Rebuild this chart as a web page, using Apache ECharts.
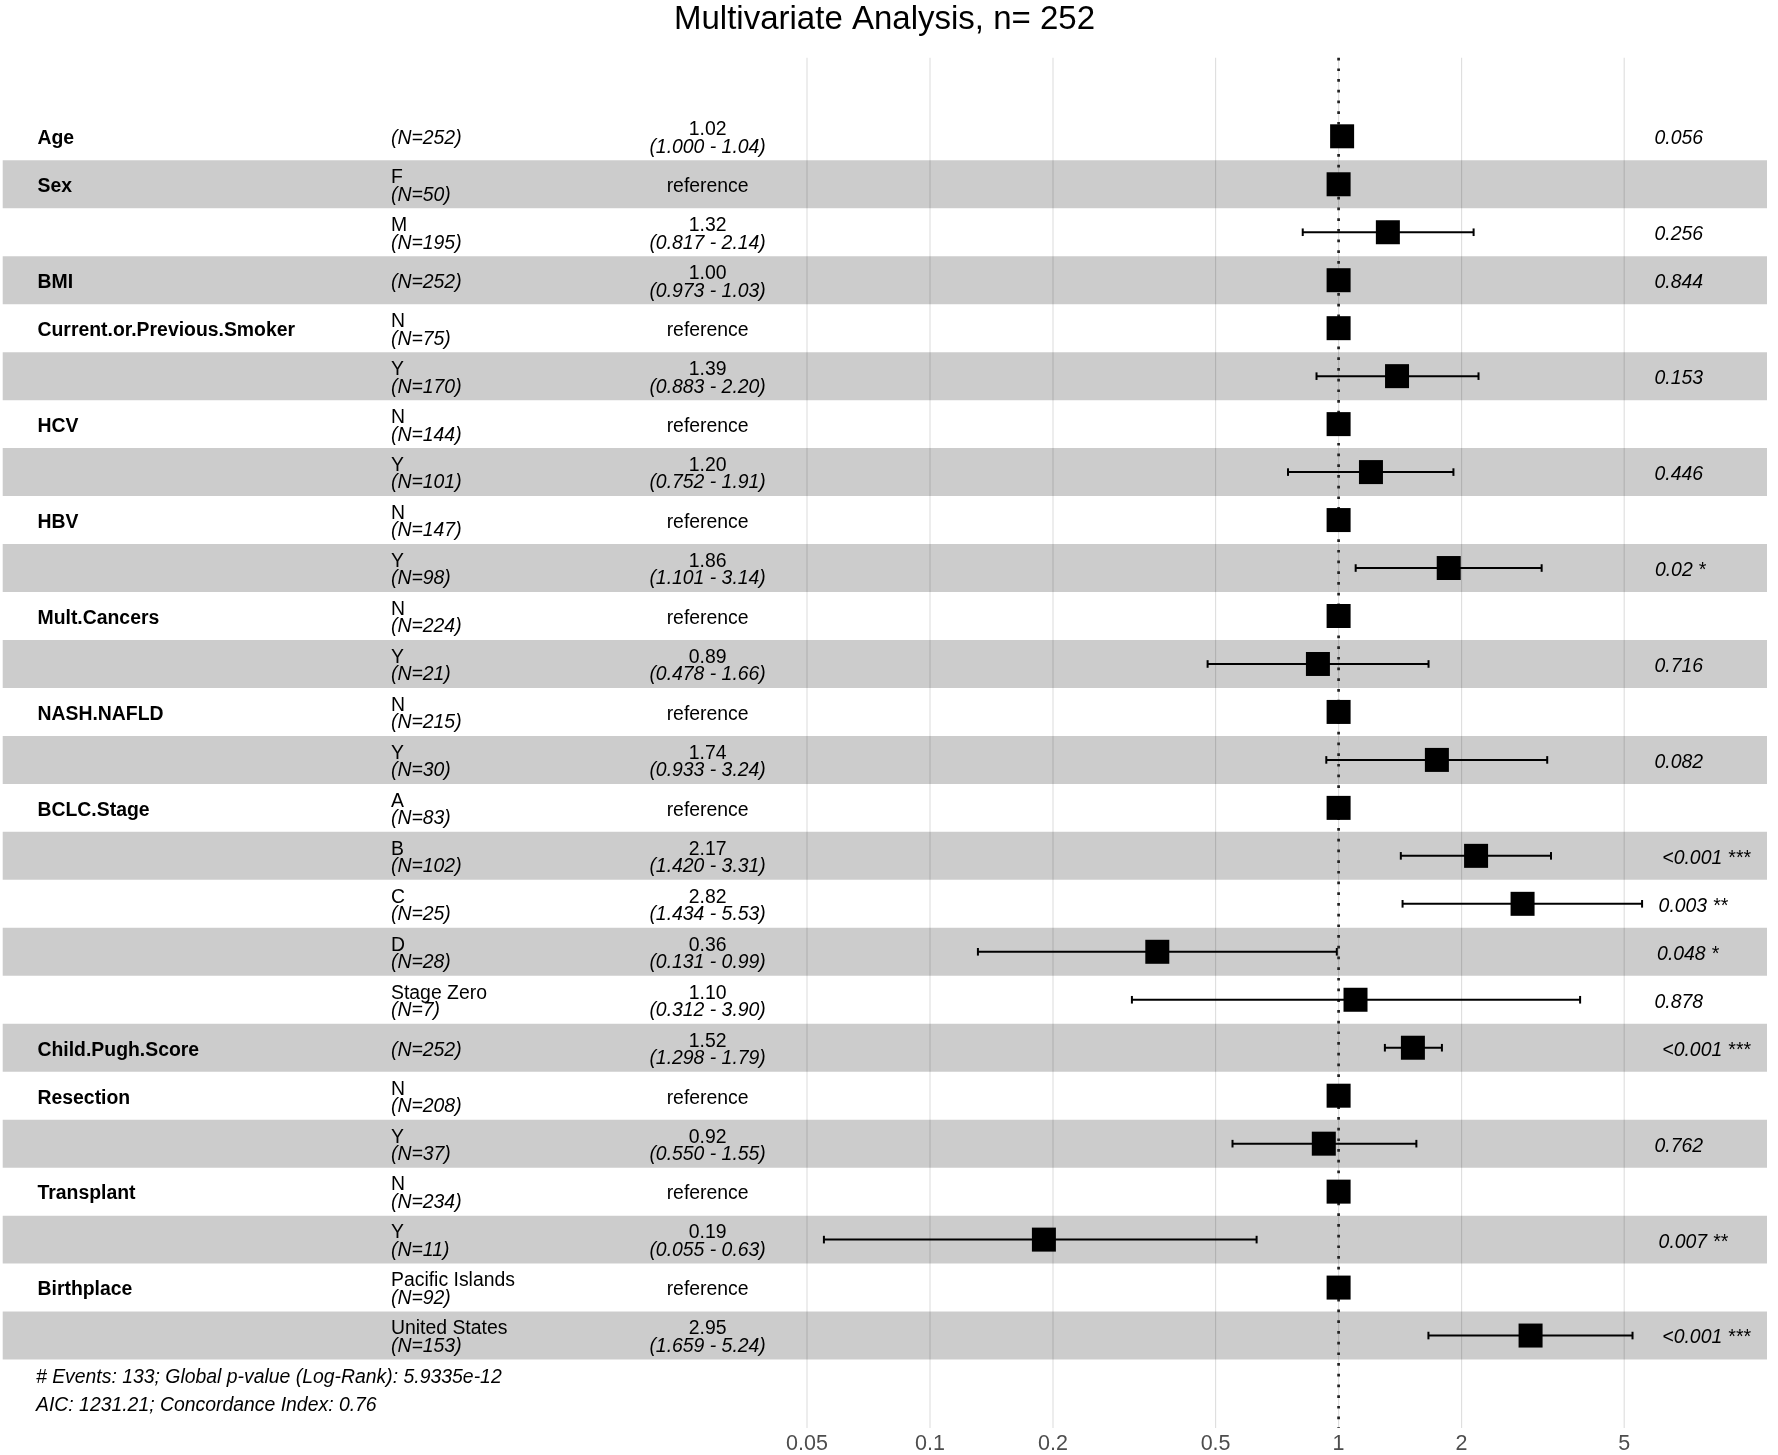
<!DOCTYPE html>
<html>
<head>
<meta charset="utf-8">
<script src="https://cdn.jsdelivr.net/npm/echarts@6/dist/echarts.min.js"></script>
<style>
html,body{margin:0;padding:0;background:#ffffff;}
#chart{width:1778px;height:1455px;}
</style>
</head>
<body>
<div id="chart"></div>
<script>
// ---------------- DATA ----------------
const chartTitle = 'Multivariate Analysis, n= 252';
const variables = ['Age','Sex','','BMI','Current.or.Previous.Smoker','','HCV','','HBV','','Mult.Cancers','','NASH.NAFLD','','BCLC.Stage','','','','','Child.Pugh.Score','Resection','','Transplant','','Birthplace',''];
const levels = ['','F','M','','N','Y','N','Y','N','Y','N','Y','N','Y','A','B','C','D','Stage Zero','','N','Y','N','Y','Pacific Islands','United States'];
const counts = [252,50,195,252,75,170,144,101,147,98,224,21,215,30,83,102,25,28,7,252,208,37,234,11,92,153];
const hazardRatios = [1.02,1,1.32,1.00,1,1.39,1,1.20,1,1.86,1,0.89,1,1.74,1,2.17,2.82,0.36,1.10,1.52,1,0.92,1,0.19,1,2.95];
const ciLower = [1.000,null,0.817,0.973,null,0.883,null,0.752,null,1.101,null,0.478,null,0.933,null,1.420,1.434,0.131,0.312,1.298,null,0.550,null,0.055,null,1.659];
const ciUpper = [1.04,null,2.14,1.03,null,2.20,null,1.91,null,3.14,null,1.66,null,3.24,null,3.31,5.53,0.99,3.90,1.79,null,1.55,null,0.63,null,5.24];
const pValues = ['0.056','','0.256','0.844','','0.153','','0.446','','0.02 *','','0.716','','0.082','','<0.001 ***','0.003 **','0.048 *','0.878','<0.001 ***','','0.762','','0.007 **','','<0.001 ***'];
const tickValues = [0.05,0.1,0.2,0.5,1,2,5];
const tickLabels = ['0.05','0.1','0.2','0.5','1','2','5'];
const footnotes = ['# Events: 133; Global p-value (Log-Rank): 5.9335e-12','AIC: 1231.21; Concordance Index: 0.76'];

// ---------------- LAYOUT ----------------
const W = 1778, H = 1455;
const FONT = '"Liberation Sans", Arial, Helvetica, sans-serif';
const FS = 19.4;
const xOnePx = 1338.6, pxPerDecade = 408.6;
const xMin = Math.pow(10, -xOnePx / pxPerDecade);
const xMax = Math.pow(10, (W - xOnePx) / pxPerDecade);
const gridTopPx = 57.7, gridBottomPx = 1428, row1Px = 136.3, rowPx = 47.97;
const yMin = 1 - (row1Px - gridTopPx) / rowPx;
const yMax = 1 + (gridBottomPx - row1Px) / rowPx;
const colVar = 37.5, colLevel = 391, colEst = 707.6, colP = 1644.8;
const bandLeft = 2.7, bandRight = 1767;
const textShift = 2.5;

const mctx = document.createElement('canvas').getContext('2d');
function measure(s, font) { mctx.font = font; return mctx.measureText(s).width; }

const rows = variables.map((v, i) => i + 1);

// ---------------- SERIES DATA ----------------
const bandData = rows.filter(r => r % 2 === 0).map(r => [1, r]);
const gridData = tickValues.map((v, i) => [v, i]);
const errData = [];
ciLower.forEach((lo, i) => { if (lo !== null) errData.push([lo, ciUpper[i], i + 1]); });
const pointData = hazardRatios.map((h, i) => [h, i + 1]);
const textData = rows.map(r => [1, r]);

const chart = echarts.init(document.getElementById('chart'), null, {renderer: 'canvas'});

const option = {
  animation: false,
  backgroundColor: '#ffffff',
  grid: {left: 0, right: 0, top: gridTopPx, bottom: H - gridBottomPx, containLabel: false},
  xAxis: {
    type: 'log', logBase: 10, min: xMin, max: xMax,
    axisLine: {show: false}, axisTick: {show: false}, axisLabel: {show: false}, splitLine: {show: false}
  },
  yAxis: {
    type: 'value', inverse: true, min: yMin, max: yMax,
    axisLine: {show: false}, axisTick: {show: false}, axisLabel: {show: false}, splitLine: {show: false}
  },
  graphic: [
    {type: 'text', x: 884.5, y: 20, z: 100,
     style: {text: chartTitle, font: 'normal 33px ' + FONT, fill: '#000', textAlign: 'center', textVerticalAlign: 'middle'}},
    {type: 'text', x: 36, y: 1378, z: 100,
     style: {text: footnotes[0], font: 'italic ' + FS + 'px ' + FONT, fill: '#000', textAlign: 'left', textVerticalAlign: 'middle'}},
    {type: 'text', x: 36, y: 1406, z: 100,
     style: {text: footnotes[1], font: 'italic ' + FS + 'px ' + FONT, fill: '#000', textAlign: 'left', textVerticalAlign: 'middle'}}
  ],
  series: [
    // vertical grid lines + tick labels
    {
      type: 'custom', z: 1, clip: false, silent: true,
      encode: {x: 0, y: 1},
      data: gridData,
      renderItem: function (params, api) {
        const cs = params.coordSys;
        const i = api.value(1);
        const x = api.coord([api.value(0), 1])[0];
        return {type: 'group', children: [
          {type: 'line', shape: {x1: x, y1: cs.y, x2: x, y2: cs.y + cs.height},
           style: {stroke: '#DEDEDE', lineWidth: 1.1}},
          {type: 'text', x: x, y: cs.y + cs.height + 16,
           style: {text: tickLabels[i], font: '21.5px ' + FONT, fill: '#4D4D4D', textAlign: 'center', textVerticalAlign: 'middle'}}
        ]};
      }
    },
    // shaded bands
    {
      type: 'custom', z: 2, clip: false, silent: true,
      encode: {x: 0, y: 1},
      data: bandData,
      renderItem: function (params, api) {
        const cs = params.coordSys;
        const c = api.coord([1, api.value(1)]);
        const h = api.size([0, 1])[1];
        return {type: 'rect', shape: {x: cs.x + bandLeft, y: c[1] - h / 2, width: bandRight - bandLeft, height: h},
          style: {fill: 'rgba(0,0,0,0.2)'}};
      }
    },
    // dotted reference line at HR = 1
    {
      type: 'custom', z: 3, clip: false, silent: true,
      encode: {x: 0, y: 1},
      data: [[1, 1]],
      renderItem: function (params, api) {
        const cs = params.coordSys;
        const x = api.coord([1, 1])[0];
        return {type: 'line', shape: {x1: x, y1: cs.y, x2: x, y2: cs.y + cs.height},
          style: {stroke: '#222', lineWidth: 2.7, lineDash: [2.7, 8], lineCap: 'butt'}};
      }
    },
    // confidence intervals
    {
      type: 'custom', z: 4, clip: false, silent: true,
      encode: {x: [0, 1], y: 2},
      data: errData,
      renderItem: function (params, api) {
        const y = api.value(2);
        const a = api.coord([api.value(0), y]);
        const b = api.coord([api.value(1), y]);
        const cap = 3.8;
        const st = {stroke: '#000', lineWidth: 2};
        return {type: 'group', children: [
          {type: 'line', shape: {x1: a[0], y1: a[1], x2: b[0], y2: b[1]}, style: st},
          {type: 'line', shape: {x1: a[0], y1: a[1] - cap, x2: a[0], y2: a[1] + cap}, style: st},
          {type: 'line', shape: {x1: b[0], y1: b[1] - cap, x2: b[0], y2: b[1] + cap}, style: st}
        ]};
      }
    },
    // point estimates
    {
      type: 'scatter', z: 5, silent: true,
      symbol: 'rect', symbolSize: 24,
      itemStyle: {color: '#000', opacity: 1},
      data: pointData
    },
    // table text
    {
      type: 'custom', z: 6, clip: false, silent: true,
      encode: {x: 0, y: 1},
      data: textData,
      renderItem: function (params, api) {
        const i = params.dataIndex;
        const y = api.coord([1, api.value(1)])[1] + textShift;
        const ch = [];
        const fNorm = 'normal ' + FS + 'px ' + FONT;
        const fItal = 'italic ' + FS + 'px ' + FONT;
        const fBold = 'bold ' + FS + 'px ' + FONT;
        const t = (text, x, yy, font, align) => ({type: 'text', x: x, y: yy,
          style: {text: text, font: font, fill: '#000', textAlign: align, textVerticalAlign: 'middle'}});
        if (variables[i]) ch.push(t(variables[i], colVar, y, fBold, 'left'));
        const nText = '(N=' + counts[i] + ')';
        if (levels[i]) {
          ch.push(t(levels[i], colLevel, y - 9, fNorm, 'left'));
          ch.push(t(nText, colLevel, y + 8.5, fItal, 'left'));
        } else {
          ch.push(t(nText, colLevel, y, fItal, 'left'));
        }
        if (ciLower[i] === null) {
          ch.push(t('reference', colEst, y, fNorm, 'center'));
        } else {
          ch.push(t(hazardRatios[i].toFixed(2), colEst, y - 9, fNorm, 'center'));
          ch.push(t('(' + ciLower[i].toFixed(3) + ' - ' + ciUpper[i].toFixed(2) + ')', colEst, y + 8.5, fItal, 'center'));
        }
        if (pValues[i]) {
          const w = measure(pValues[i], fItal);
          ch.push(t(pValues[i], colP + 0.2 * w, y, fItal, 'left'));
        }
        return {type: 'group', children: ch};
      }
    }
  ]
};
chart.setOption(option);
</script>
</body>
</html>
